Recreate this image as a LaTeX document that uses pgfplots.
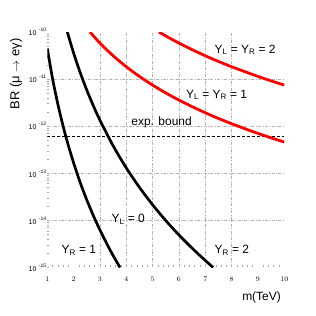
\documentclass[border=0pt]{standalone}
\usepackage{pgfplots}
\pgfplotsset{compat=1.18}
\usepackage{fontspec}
\setmainfont{Liberation Sans}
\newcommand{\tl}[1]{10\hspace{2.5bp}\raisebox{4bp}{\fontsize{5}{5}\selectfont #1}}
\begin{document}
\begin{tikzpicture}
\begin{axis}[
  scale only axis, width=237bp, height=235.5bp,
  xmin=1, xmax=10, ymin=1e-15, ymax=1e-10, ymode=log,
  axis line style={draw=none},
  tick pos=left,
  clip mode=individual,
  xtick={1,...,10},
  ytick={1e-15,1e-14,1e-13,1e-12,1e-11,1e-10},
  yticklabels={\tl{-15},\tl{-14},\tl{-13},\tl{-12},\tl{-11},\tl{-10}},
  major tick length=0pt,
  minor tick length=2bp,
  minor x tick num=4,
  tick style={gray!70, line width=0.6bp},
  xticklabel style={font=\fontsize{7}{8}\selectfont, inner sep=0pt, yshift=-9bp},
  yticklabel style={font=\fontsize{7}{8}\selectfont, inner sep=0pt, xshift=-1bp},
  extra x ticks={3,4,5,6,7,8}, extra x tick labels={},
  extra x tick style={grid=major, major tick length=0pt},
  extra y ticks={1e-14,1e-13,1e-12,1e-11}, extra y tick labels={},
  extra y tick style={grid=major, major tick length=0pt},
  grid style={gray!60, dash pattern=on 3bp off 1.5bp on 0.8bp off 1.5bp, line width=0.6bp},
]
% exp bound
\addplot[black, line width=1.6bp, dash pattern=on 3bp off 2bp] coordinates {(1,6e-13) (10,6e-13)};
% Y_R = 1
\addplot[black, line width=2.7bp, smooth] coordinates {
(1.0,4.47e-11) (1.2,1.02e-11) (1.4,2.95e-12) (1.6,1.0e-12) (1.8,3.89e-13) (2.0,1.66e-13)
(2.25,6.37e-14) (2.5,2.72e-14) (2.75,1.26e-14) (3.0,6.24e-15) (3.25,3.27e-15) (3.5,1.79e-15) (3.76,1e-15)};
% Y_L = 0 / Y_R = 2
\addplot[black, line width=2.7bp, smooth] coordinates {
(1.76,1e-10) (2.0,3.56e-11) (2.25,1.37e-11) (2.5,5.85e-12) (2.75,2.70e-12) (3.0,1.34e-12)
(3.5,3.84e-13) (4.0,1.30e-13) (4.5,5.02e-14) (5.0,2.14e-14) (5.5,9.91e-15) (6.0,4.90e-15)
(6.5,2.57e-15) (7.0,1.41e-15) (7.3,1.0e-15)};
% Y_L = Y_R = 2
\addplot[red, line width=2.8bp, smooth] coordinates {
(5.24,1e-10) (5.5,8.24e-11) (6.0,5.81e-11) (6.5,4.22e-11) (7.0,3.13e-11) (7.5,2.37e-11)
(8.0,1.83e-11) (8.5,1.44e-11) (9.0,1.14e-11) (9.5,9.18e-12) (10.0,7.46e-12)};
% Y_L = Y_R = 1
\addplot[red, line width=2.8bp, smooth] coordinates {
(2.62,1e-10) (3.0,5.81e-11) (3.5,3.13e-11) (4.0,1.83e-11) (4.5,1.14e-11) (5.0,7.45e-12)
(5.5,5.08e-12) (6.0,3.58e-12) (6.5,2.60e-12) (7.0,1.93e-12) (7.5,1.46e-12) (8.0,1.13e-12)
(8.5,8.85e-13) (9.0,7.03e-13) (9.5,5.66e-13) (10.0,4.60e-13)};
\begin{scope}[font=\fontsize{12}{14}\selectfont]
\node at (axis cs:8.51,4.2e-11) {Y\textsubscript{L} = Y\textsubscript{R} = 2};
\node at (axis cs:7.43,4.6e-12) {Y\textsubscript{L} = Y\textsubscript{R} = 1};
\node at (axis cs:5.34,1.23e-12) {exp. bound};
\node at (axis cs:4.07,1.07e-14) {Y\textsubscript{L} = 0};
\node at (axis cs:2.2,2.34e-15) {Y\textsubscript{R} = 1};
\node at (axis cs:8.01,2.34e-15) {Y\textsubscript{R} = 2};
\node[anchor=east] at (rel axis cs:1.0,-0.127) {m(TeV)};
\node[rotate=90, font=\fontsize{13}{15}\selectfont] at (rel axis cs:-0.132,0.822) {BR (μ $\rightarrow$ eγ)};
\end{scope}
\path (rel axis cs:-0.1996,-0.206) rectangle (rel axis cs:1.1338,1.1359);
\end{axis}
\end{tikzpicture}
\end{document}
